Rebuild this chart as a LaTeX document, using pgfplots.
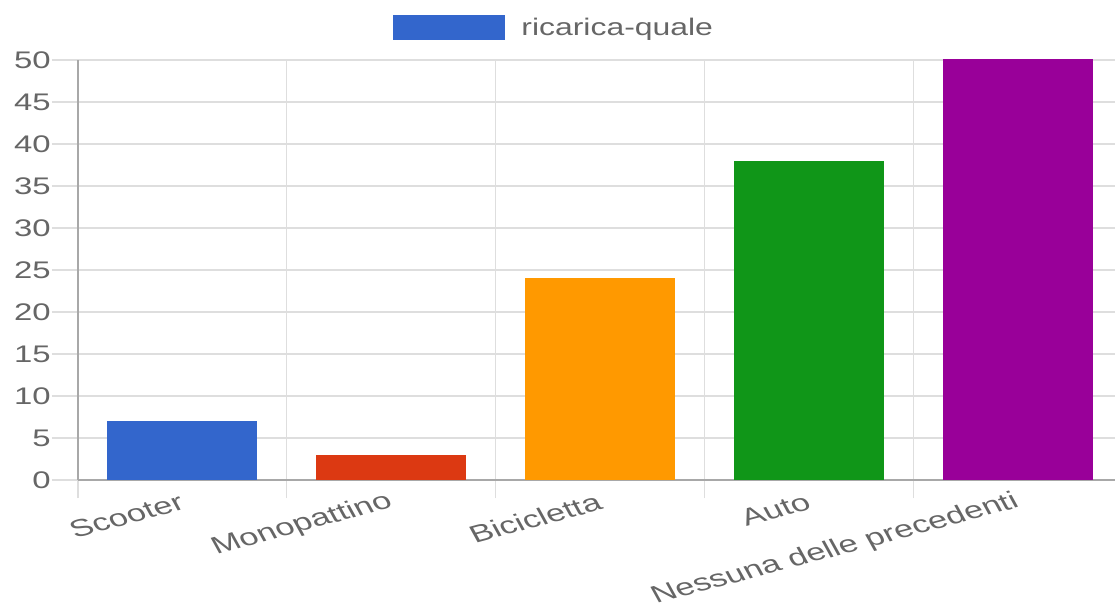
\documentclass[border=0pt]{standalone}
\usepackage{fontspec}
\setmainfont{Liberation Sans}
\usepackage{graphicx}
\usepackage{pgfplots}
\pgfplotsset{compat=1.18}
\definecolor{c1}{HTML}{3366CC}
\definecolor{c2}{HTML}{DC3912}
\definecolor{c3}{HTML}{FF9900}
\definecolor{c4}{HTML}{109618}
\definecolor{c5}{HTML}{990099}
\definecolor{gridc}{HTML}{DEDEDE}
\definecolor{axisc}{HTML}{A8A8A8}
\definecolor{labelc}{HTML}{666666}
\begin{document}
\begin{tikzpicture}
\begin{axis}[
  at={(78pt,125pt)}, anchor=south west,
  scale only axis, width=1044pt, height=420pt,
  xmin=-0.5, xmax=4.5, ymin=0, ymax=50,
  axis x line*=bottom, axis y line*=left,
  axis line style={-, draw=axisc, line width=1.6pt},
  xtick={-0.5,0.5,1.5,2.5,3.5,4.5},
  x tick label as interval,
  xticklabels={Scooter,Monopattino,Bicicletta,Auto,Nessuna delle precedenti},
  ytick={0,5,...,50},
  grid=major, grid style={draw=gridc, line width=1.1pt},
  tick align=outside,
  major tick length=18pt,
  tick style={draw=gridc, line width=1.1pt},
  ytick style={/pgfplots/major tick length=26pt},
  /pgf/number format/assume math mode=true,
  tick label style={font=\fontsize{24}{28}\selectfont, text=labelc},
  yticklabel style={anchor=east, inner sep=0pt, xshift=-9pt, xscale=1.37},
  xticklabel style={anchor=east, inner sep=0pt, yshift=-3pt, xscale=1.44, rotate=21},
  ybar, bar width=150pt,
  legend style={at={(0.456,1.0774)}, anchor=center, draw=none, fill=none,
    font=\fontsize{24}{28}\selectfont, text=labelc, column sep=0pt,
    /tikz/every even column/.append style={column sep=0pt}},
  legend image code/.code={\fill[c1] (0pt,-11.8pt) rectangle (111pt,11.8pt);},
]
\addlegendimage{c1}
\addlegendentry{\hspace{15pt}\scalebox{1.33}[1]{ricarica-quale}}
\addplot[fill=c1, draw=none, bar shift=0pt, forget plot] coordinates {(0,7)};
\addplot[fill=c2, draw=none, bar shift=0pt, forget plot] coordinates {(1,3)};
\addplot[fill=c3, draw=none, bar shift=0pt, forget plot] coordinates {(2,24)};
\addplot[fill=c4, draw=none, bar shift=0pt, forget plot] coordinates {(3,38)};
\addplot[fill=c5, draw=none, bar shift=0pt, forget plot] coordinates {(4,55)};
\end{axis}
\pgfresetboundingbox
\useasboundingbox (0pt,0pt) rectangle (1115pt,605pt);
\end{tikzpicture}
\end{document}
